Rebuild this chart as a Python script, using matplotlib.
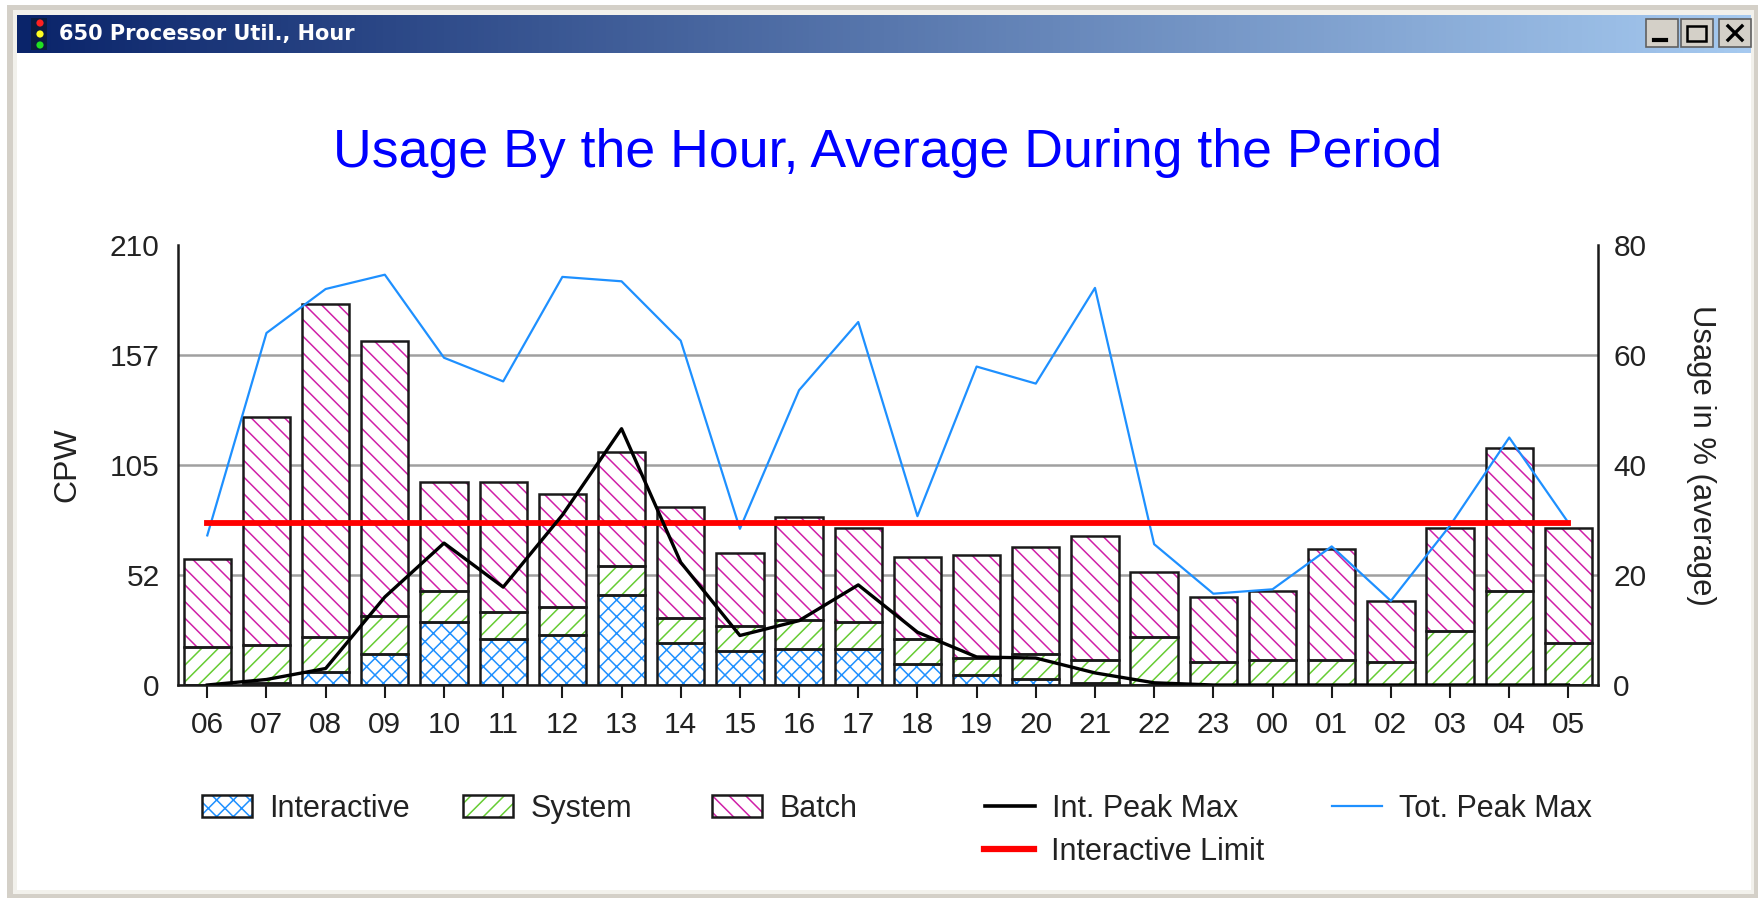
import numpy as np
import matplotlib
matplotlib.use("Agg")
import matplotlib.pyplot as plt
from matplotlib.patches import Patch, Rectangle, Circle
from matplotlib.lines import Line2D
from matplotlib.legend_handler import HandlerTuple

hours = ["06","07","08","09","10","11","12","13","14","15","16","17",
         "18","19","20","21","22","23","00","01","02","03","04","05"]
interactive = [0, 1, 6, 15, 30, 22, 24, 43, 20, 16, 17, 17, 10, 5, 3, 1, 0, 0, 0, 0, 0, 0, 0, 0]
system = [18, 18, 17, 18, 15, 13, 13, 14, 12, 12, 14, 13, 12, 8, 12, 11, 23, 11, 12, 12, 11, 26, 45, 20]
batch = [42, 109, 159, 131, 52, 62, 54, 54, 53, 35, 49, 45, 39, 49, 51, 59, 31, 31, 33, 53, 29, 49, 68, 55]
tot_peak = [27.2, 64, 72, 74.6, 59.5, 55.2, 74.2, 73.4, 62.6, 28.4, 53.6, 66,
            30.7, 57.9, 54.8, 72.2, 25.6, 16.6, 17.4, 25.2, 15.3, 29, 45, 29.5]
int_peak = [0, 1, 3, 16, 25.8, 17.8, 30.9, 46.6, 22.3, 9, 11.7, 18.2,
            9.6, 5.1, 4.9, 2.2, 0.4, 0, 0, 0, 0, 0, 0, 0]
limit = [29.5] * 24
cpw_ticks = [0, 52.5, 105, 157.5, 210]
cpw_labels = ["0", "52", "105", "157", "210"]
pct_ticks = [0, 20, 40, 60, 80]

W, H = 1763, 898
FONT = "Liberation Sans"
BLUE, GREEN, PINK = "#1e90ff", "#66cc33", "#d020a8"
plt.rcParams["font.family"] = FONT
plt.rcParams["hatch.linewidth"] = 1.1

fig = plt.figure(figsize=(W / 100, H / 100), dpi=100, facecolor="white")

# window chrome, in pixel coordinates
bg = fig.add_axes([0, 0, 1, 1], zorder=-5)
bg.set_xlim(0, W); bg.set_ylim(H, 0); bg.axis("off")
GR = "#d4d0c8"
bg.add_patch(Rectangle((7, 5), W - 12, H - 5, fc=GR, ec="none"))
bg.add_patch(Rectangle((13, 10), W - 22, H - 14, fc="#f2f1ec", ec="none"))
bg.add_patch(Rectangle((17, 15), W - 29, H - 23, fc="white", ec="none"))
grad = np.linspace(0, 1, 256)[None, :, None]
c0, c1 = np.array([10, 36, 106]) / 255, np.array([166, 202, 240]) / 255
bg.imshow(c0 + (c1 - c0) * grad, extent=(17, W - 12, 53, 15), aspect="auto", zorder=1)
bg.set_xlim(0, W); bg.set_ylim(H, 0)
bg.text(59, 34, "650 Processor Util., Hour", color="white", fontsize=15,
        fontweight="bold", family="DejaVu Sans", va="center", ha="left", zorder=3)
bg.add_patch(Rectangle((31, 18), 16, 32, fc="#0b1c40", ec="none", zorder=2))
for yy, cc in zip((23, 34, 45), ("#ff2020", "#ffff20", "#20e020")):
    bg.add_patch(Circle((40, yy), 3.6, fc=cc, ec="none", zorder=3))
for x0 in (1646, 1681, 1719):
    bg.add_patch(Rectangle((x0, 19), 32, 28, fc=GR, ec="#606060", lw=1.2, zorder=2))
bg.plot([1654, 1666], [40, 40], color="black", lw=3, zorder=3)
bg.add_patch(Rectangle((1687, 26), 19, 15, fc="none", ec="black", lw=1.8, zorder=3))
bg.plot([1728, 1742], [26, 40], color="black", lw=2.4, zorder=3)
bg.plot([1728, 1742], [40, 26], color="black", lw=2.4, zorder=3)

# plot area
L, R, T, B = 177.7, 1598, 245, 685
ax = fig.add_axes([L / W, 1 - B / H, (R - L) / W, (B - T) / H], facecolor="none")
x = np.arange(len(hours))
inter = np.array(interactive); sys_ = np.array(system); bat = np.array(batch)
w = 0.8
EDGE = "#1a1a1a"
ax.set_axisbelow(True)
stack = [(inter, np.zeros(24), BLUE, "xx"), (sys_, inter, GREEN, "//"), (bat, inter + sys_, PINK, "\\\\")]
for vals, bot, col, hatch in stack:
    ax.bar(x, vals, w, bottom=bot, facecolor="white", edgecolor=col, hatch=hatch, lw=0, zorder=2)
    ax.bar(x, vals, w, bottom=bot, fill=False, edgecolor=EDGE, lw=1.8, zorder=3)
ax.set_xlim(-0.5, 23.5)
ax.set_ylim(0, 210)
ax.set_xticks(x, hours)
ax.set_yticks(cpw_ticks, cpw_labels)
ax.yaxis.grid(True, color="#a0a0a0", lw=1.8)
ax.xaxis.grid(False)
ax.get_ygridlines()[-1].set_visible(False)
ax.tick_params(axis="x", length=9, width=1.5, pad=10, labelsize=21.5, color=EDGE, labelcolor="#222222")
ax.tick_params(axis="y", length=0, pad=13, labelsize=21.5, labelcolor="#222222")
ax.spines["top"].set_visible(False)
ax.spines["right"].set_visible(False)
for s in ("left", "bottom"):
    ax.spines[s].set_linewidth(1.8); ax.spines[s].set_color(EDGE)

ax2 = ax.twinx()
ax2.set_ylim(0, 80)
ax2.set_yticks(pct_ticks)
ax2.tick_params(axis="y", length=0, pad=11, labelsize=21.5, labelcolor="#222222")
for s in ("top", "left", "bottom"):
    ax2.spines[s].set_visible(False)
ax2.spines["right"].set_linewidth(1.8); ax2.spines["right"].set_color(EDGE)
ax2.plot(x, tot_peak, color=BLUE, lw=1.6, zorder=3)
ax2.plot(x, limit, color="#ff0000", lw=4.2, zorder=4)
ax2.plot(x, int_peak, color="black", lw=2.4, zorder=5)

fig.text(888 / W, 1 - 152.5 / H, "Usage By the Hour, Average During the Period",
         color="#0000ff", fontsize=38.6, ha="center", va="center")
fig.text(67 / W, 1 - 465 / H, "CPW", rotation=90, fontsize=23, color="#222222", ha="center", va="center")
fig.text(1701 / W, 1 - 455 / H, "Usage in % (average)", rotation=270, fontsize=22.3, color="#222222",
         ha="center", va="center")

# legend entries, each placed on its own
def swatch(col, hatch):
    return (Patch(facecolor="white", edgecolor=col, hatch=hatch, lw=0),
            Patch(fill=False, edgecolor=EDGE, lw=1.8))

entries = [
    (swatch(BLUE, "xx"), "Interactive", 202, 809),
    (swatch(GREEN, "//"), "System", 463, 809),
    (swatch(PINK, "\\\\"), "Batch", 712, 809),
    (Line2D([], [], color="black", lw=2.6), "Int. Peak Max", 985, 809),
    (Line2D([], [], color=BLUE, lw=1.6), "Tot. Peak Max", 1332, 809),
    (Line2D([], [], color="#ff0000", lw=4.5), "Interactive Limit", 984, 852),
]
for handle, label, px, py in entries:
    fig.legend([handle], [label], loc="center left", bbox_to_anchor=(px / W, 1 - py / H),
               frameon=False, fontsize=22, labelcolor="#222222", borderpad=0, borderaxespad=0,
               handlelength=1.65, handleheight=0.72, handletextpad=0.55,
               handler_map={tuple: HandlerTuple(ndivide=1, pad=0)})

fig.savefig("out.png", dpi=100)
